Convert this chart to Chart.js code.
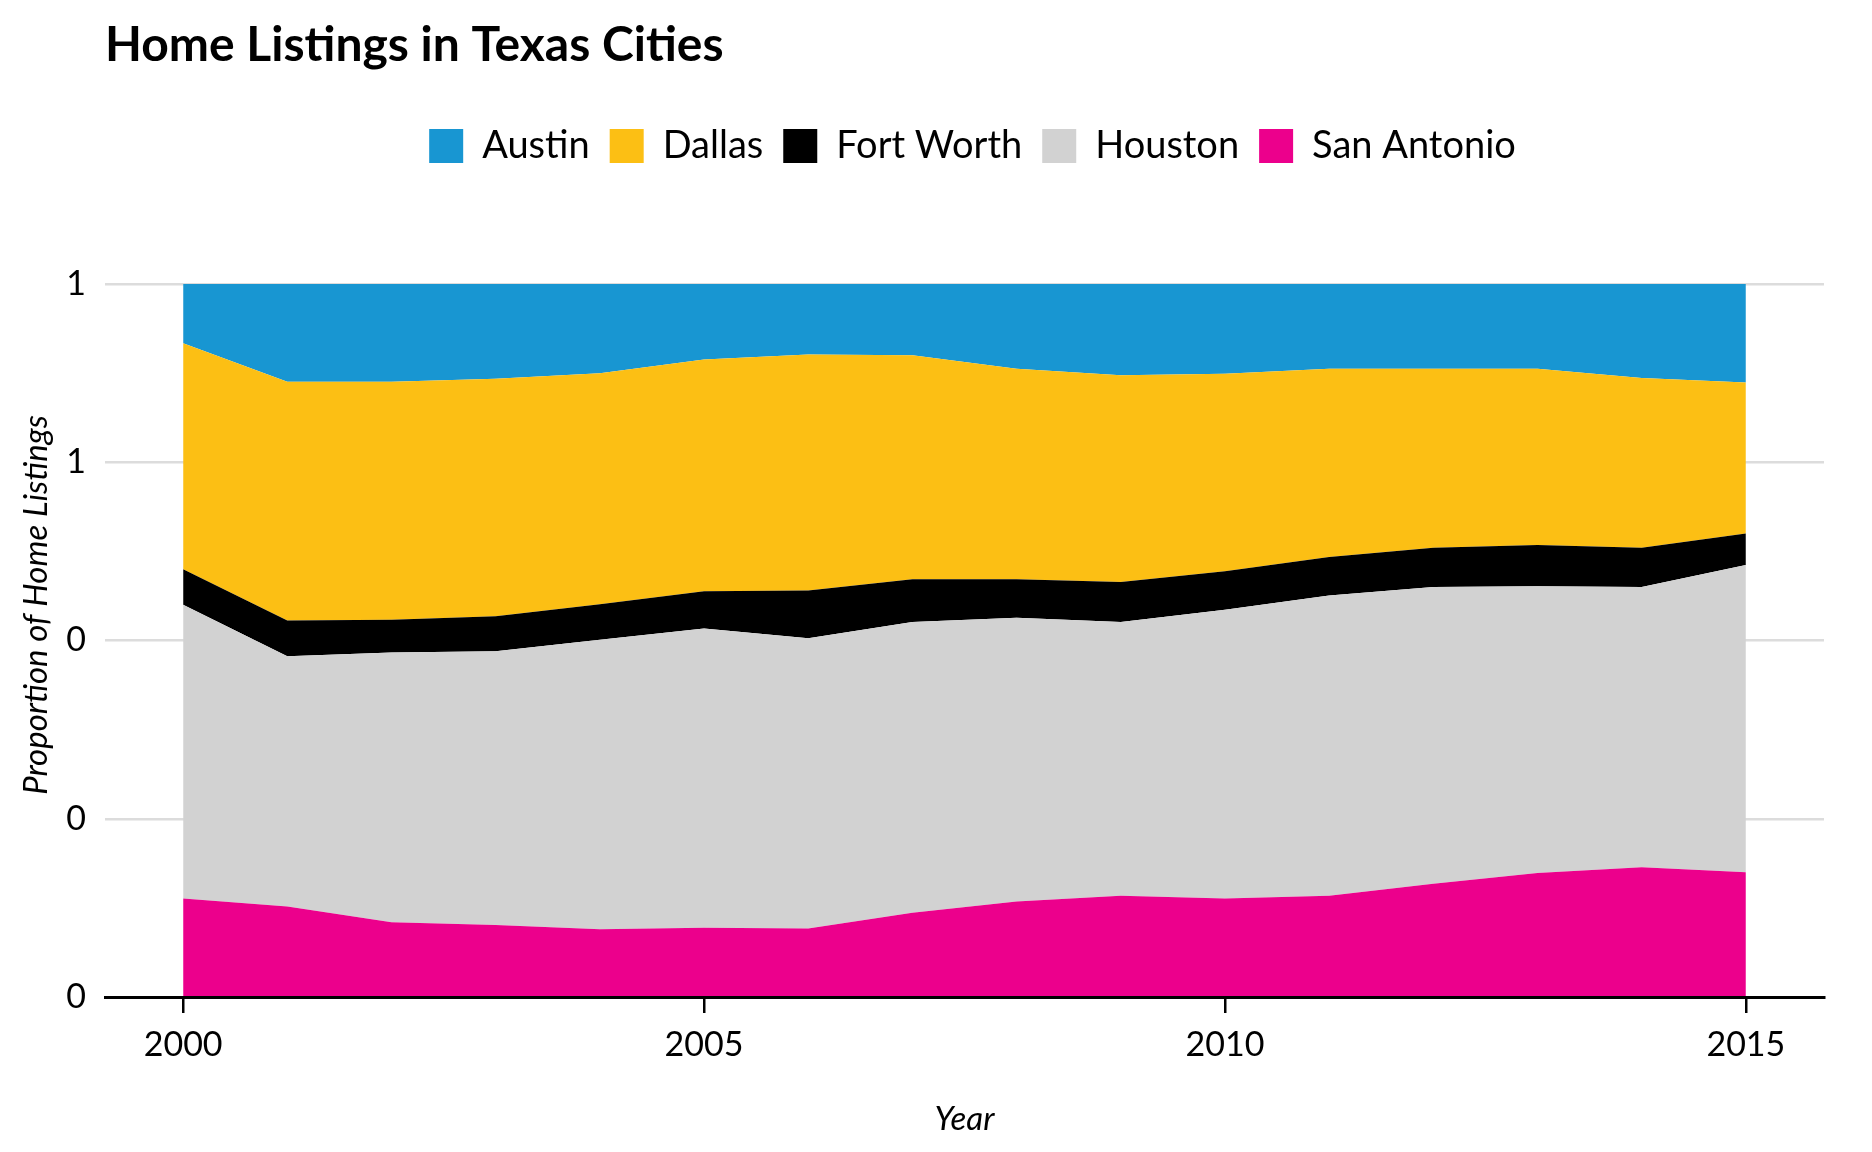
<!DOCTYPE html>
<html>
<head>
<meta charset="utf-8">
<title>Home Listings in Texas Cities</title>
<script src="https://cdn.jsdelivr.net/npm/chart.js@4.4.1/dist/chart.umd.min.js"></script>
<style>
  html, body { margin: 0; padding: 0; background: #fff; }
  #wrap { width: 1872px; height: 1152px; }
</style>
</head>
<body>
<div id="wrap"><canvas id="listingsChart" width="1872" height="1152"></canvas></div>
<script>
// Share of home listings per city, by year (stack order: bottom to top)
const years = [2000, 2001, 2002, 2003, 2004, 2005, 2006, 2007, 2008, 2009, 2010, 2011, 2012, 2013, 2014, 2015];
const sanAntonio = [0.138, 0.127, 0.105, 0.101, 0.095, 0.097, 0.096, 0.118, 0.134, 0.142, 0.138, 0.142, 0.159, 0.174, 0.182, 0.175];
const houston    = [0.412, 0.351, 0.378, 0.384, 0.406, 0.420, 0.407, 0.408, 0.398, 0.384, 0.405, 0.421, 0.416, 0.402, 0.393, 0.431];
const fortWorth  = [0.050, 0.050, 0.046, 0.049, 0.050, 0.052, 0.067, 0.060, 0.054, 0.056, 0.054, 0.054, 0.055, 0.058, 0.055, 0.044];
const dallas     = [0.317, 0.335, 0.334, 0.333, 0.324, 0.325, 0.331, 0.314, 0.295, 0.290, 0.277, 0.264, 0.251, 0.247, 0.238, 0.212];
const austin     = [0.083, 0.137, 0.137, 0.133, 0.125, 0.106, 0.099, 0.100, 0.119, 0.128, 0.126, 0.119, 0.119, 0.119, 0.132, 0.138];

const xTicks = [2000, 2005, 2010, 2015];
const yTicks = [0, 0.25, 0.5, 0.75, 1];
const yTickLabels = ['0', '0', '0', '1', '1'];
const yTitle = 'Proportion of Home Listings';

const FONT = 'Lato, "Open Sans", sans-serif';

function series(label, values, color) {
  return {
    label,
    data: years.map((yr, i) => ({ x: yr, y: values[i] })),
    backgroundColor: color,
    borderColor: color,
    borderWidth: 0,
    pointRadius: 0,
    pointHoverRadius: 0,
    tension: 0
  };
}

// Move title to the panel's left edge, centre the legend over the panel,
// and draw the y axis title where ggplot put it (a bit above panel centre)
const headerPlacement = {
  id: 'headerPlacement',
  afterLayout(chart) {
    const area = chart.chartArea;
    chart.titleBlock.left = area.left;

    const legend = chart.legend;
    const dx = (area.left + area.right) / 2 + 8 - (legend.left + legend.right) / 2;
    legend.left += dx;
    legend.right += dx;
    const h = legend.bottom - legend.top;
    legend.top = 107;
    legend.bottom = 107 + h;
  },
  afterDraw(chart) {
    const ctx = chart.ctx;
    ctx.save();
    ctx.translate(47, 605);
    ctx.rotate(-Math.PI / 2);
    ctx.font = 'italic 33px ' + FONT;
    ctx.fillStyle = '#000';
    ctx.textAlign = 'center';
    ctx.textBaseline = 'alphabetic';
    ctx.fillText(yTitle, 0, 0);
    ctx.restore();
  }
};

const datasets = [
  Object.assign(series('San Antonio', sanAntonio, '#ec008c'), { fill: 'origin' }),
  Object.assign(series('Houston', houston, '#d2d2d2'), { fill: '-1' }),
  Object.assign(series('Fort Worth', fortWorth, '#000000'), { fill: '-1' }),
  Object.assign(series('Dallas', dallas, '#fcbf14'), { fill: '-1' }),
  Object.assign(series('Austin', austin, '#1896d2'), { fill: '-1' })
];

new Chart(document.getElementById('listingsChart').getContext('2d'), {
  type: 'line',
  data: { datasets },
  options: {
    responsive: false,
    animation: false,
    layout: { padding: { left: 0, right: 48, top: 0, bottom: 0 } },
    plugins: {
      title: {
        display: true,
        text: 'Home Listings in Texas Cities',
        align: 'start',
        color: '#000',
        font: { family: FONT, size: 48, weight: 'bold' },
        padding: { top: 17, bottom: 141.4 }
      },
      legend: {
        display: true,
        position: 'top',
        reverse: true,
        labels: {
          color: '#000',
          font: { family: FONT, size: 38 },
          boxWidth: 34,
          boxHeight: 34,
          padding: 20
        }
      },
      tooltip: { enabled: false }
    },
    scales: {
      x: {
        type: 'linear',
        min: 1999.25,
        max: 2015.75,
        afterBuildTicks: (scale) => { scale.ticks = xTicks.map(v => ({ value: v })); },
        afterFit: (scale) => { scale.height = 155; },
        ticks: {
          color: '#000',
          font: { family: FONT, size: 34 },
          padding: 12,
          maxRotation: 0,
          callback: (v) => String(v)
        },
        grid: { display: true, drawOnChartArea: false, drawTicks: true, tickLength: 16, color: '#000', lineWidth: 2.5 },
        border: { display: true, color: '#000', width: 3, z: 1 },
        title: {
          display: true,
          text: 'Year',
          color: '#000',
          font: { family: FONT, size: 33, style: 'italic' },
          padding: { top: 0, bottom: 13 }
        }
      },
      y: {
        stacked: true,
        min: 0,
        max: 1,
        afterBuildTicks: (scale) => { scale.ticks = yTicks.map(v => ({ value: v })); },
        afterFit: (scale) => { scale.width = 105; },
        ticks: {
          color: '#000',
          font: { family: FONT, size: 34 },
          padding: 19,
          callback: (v, i) => yTickLabels[i]
        },
        grid: { color: '#dcdcdc', lineWidth: 2.5, drawTicks: false },
        border: { display: false },
        title: { display: false }
      }
    }
  },
  plugins: [headerPlacement]
});
</script>
</body>
</html>
